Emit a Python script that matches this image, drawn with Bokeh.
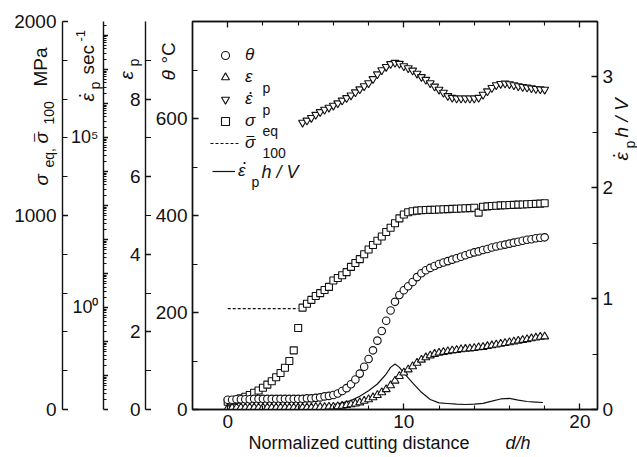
import math
from bokeh.plotting import figure
from bokeh.models import (Range1d, LinearAxis, FixedTicker, LogScale, CustomJSTickFormatter,
                          Label, Legend, LegendItem)
from bokeh.layouts import row, column
from bokeh.embed import file_html
from bokeh.resources import INLINE

# ---------------- data ----------------
d = [0.0, 0.25, 0.5, 0.75, 1.0, 1.25, 1.5, 1.75, 2.0, 2.25, 2.5, 2.75, 3.0, 3.25, 3.5, 3.75,
     4.0, 4.25, 4.5, 4.75, 5.0, 5.25, 5.5, 5.75, 6.0, 6.25, 6.5, 6.75, 7.0, 7.25, 7.5, 7.75,
     8.0, 8.25, 8.5, 8.75, 9.0, 9.25, 9.5, 9.75, 10.0, 10.25, 10.5, 10.75, 11.0, 11.25, 11.5,
     11.75, 12.0, 12.25, 12.5, 12.75, 13.0, 13.25, 13.5, 13.75, 14.0, 14.25, 14.5, 14.75, 15.0,
     15.25, 15.5, 15.75, 16.0, 16.25, 16.5, 16.75, 17.0, 17.25, 17.5, 17.75, 18.0]

theta = [20, 20, 21, 21, 21, 21, 22, 22, 22, 22, 22, 22, 22, 22, 22, 22, 22, 22, 23, 23, 24, 25,
         27, 28, 30, 33, 38, 44, 52, 62, 74, 88, 104, 122, 142, 162, 183, 204, 222, 236, 246,
         254, 263, 273, 281, 287, 292, 296, 300, 303, 306, 309, 312, 315, 318, 321, 324, 326,
         329, 331, 334, 336, 338, 340, 342, 344, 346, 348, 350, 351, 353, 354, 355]

eps_p = [0.03, 0.04, 0.05, 0.05, 0.05, 0.05, 0.05, 0.05, 0.05, 0.05, 0.05, 0.05, 0.05, 0.05,
         0.05, 0.05, 0.05, 0.05, 0.05, 0.05, 0.06, 0.06, 0.06, 0.07, 0.07, 0.08, 0.09, 0.11,
         0.13, 0.15, 0.18, 0.22, 0.26, 0.31, 0.37, 0.44, 0.52, 0.62, 0.74, 0.86, 0.95, 1.03,
         1.11, 1.20, 1.28, 1.34, 1.39, 1.43, 1.46, 1.48, 1.50, 1.52, 1.53, 1.55, 1.56, 1.57,
         1.58, 1.60, 1.61, 1.63, 1.65, 1.67, 1.69, 1.71, 1.73, 1.75, 1.77, 1.79, 1.81, 1.83,
         1.85, 1.87, 1.88]

sigma_eq = [40, 45, 50, 58, 66, 75, 86, 98, 112, 128, 146, 166, 188, 215, 250, 305, 420,
            525, 545, 565, 585, 600, 616, 632, 665, 678, 692, 708, 735, 755, 775, 800, 825,
            848, 870, 892, 915, 937, 960, 985, 1005, 1017, 1022, 1025, 1027, 1028, 1029, 1030,
            1031, 1032, 1033, 1034, 1035, 1036, 1037, 1038, 1040, 1015, 1045, 1047, 1049, 1050,
            1052, 1053, 1054, 1055, 1056, 1057, 1058, 1059, 1060, 1061, 1063]

edot_d = d[17:]
edot = [2.75e5, 3.16e5, 3.80e5, 4.68e5, 5.62e5, 6.61e5, 7.59e5, 8.71e5, 1.02e6, 1.23e6,
        1.45e6, 1.74e6, 2.14e6, 2.63e6, 3.24e6, 3.98e6, 5.25e6, 7.24e6, 9.55e6, 1.20e7,
        1.45e7, 1.58e7, 1.48e7, 1.26e7, 1.10e7, 9.33e6, 7.59e6, 6.03e6, 5.01e6, 3.98e6,
        3.16e6, 2.57e6, 2.09e6, 1.66e6, 1.48e6, 1.41e6, 1.41e6, 1.41e6, 1.41e6, 1.41e6,
        1.48e6, 1.82e6, 2.29e6, 2.88e6, 3.47e6, 3.80e6, 3.89e6, 3.72e6, 3.47e6, 3.24e6,
        3.09e6, 2.95e6, 2.82e6, 2.69e6, 2.63e6, 2.57e6]

sig100_d = [0.0, 4.0]
sig100 = [520, 520]

rate_d = [0, 1, 2, 3, 4, 5, 5.5, 6, 6.5, 7, 7.5, 8, 8.5, 9, 9.25, 9.5, 9.75, 10, 10.5, 11,
          11.5, 12, 12.5, 13, 13.5, 14, 14.5, 15, 15.5, 16, 16.5, 17, 17.5, 17.9]
rate = [0.02, 0.02, 0.02, 0.02, 0.025, 0.03, 0.035, 0.045, 0.06, 0.08, 0.12, 0.17, 0.23, 0.32,
        0.38, 0.41, 0.38, 0.33, 0.24, 0.155, 0.09, 0.06, 0.054, 0.048, 0.045, 0.048, 0.056,
        0.075, 0.095, 0.10, 0.085, 0.072, 0.067, 0.063]

x_ticks = [0, 10, 20]
x_minor = [2, 4, 6, 8, 12, 14, 16, 18]
theta_ticks = [0, 200, 400, 600]
theta_minor = [100, 300, 500, 700]
eps_ticks = [0, 2, 4, 6, 8]
eps_minor = [1, 3, 5, 7, 9]
sigma_ticks = [0, 1000, 2000]
sigma_minor = [200, 400, 600, 800, 1200, 1400, 1600, 1800]
rate_ticks = [0, 1, 2, 3]
rate_minor = [0.5, 1.5, 2.5]
log_decades = [1e-3, 1e-2, 1e-1, 1e0, 1e1, 1e2, 1e3, 1e4, 1e5, 1e6, 1e7, 1e8]
log_minor = [m * dec for dec in log_decades for m in range(2, 10) if m * dec < 2.5e8]

# ---------------- styling ----------------
FONT = "Liberation Sans"
INK = "#111111"
W = 637
H = 457
TOP = 21
BOTTOM = 48
FRAME_BOTTOM = H - BOTTOM

x_range = Range1d(-2, 21)
theta_range = Range1d(0, 800)
sigma_range = Range1d(0, 2000)
eps_range = Range1d(0, 10)
log_range = Range1d(1e-3, 10 ** 8.41)
rate_range = Range1d(0, 3.5)


def style_axis(ax, ticks, minor, major_len=6, minor_len=4, standoff=5, size="19px"):
    ax.ticker = FixedTicker(ticks=ticks, minor_ticks=minor)
    ax.major_tick_in = major_len
    ax.major_tick_out = 0
    ax.minor_tick_in = minor_len
    ax.minor_tick_out = 0
    ax.axis_line_color = INK
    ax.axis_line_width = 1.4
    ax.major_tick_line_color = INK
    ax.major_tick_line_width = 1.3
    ax.minor_tick_line_color = INK
    ax.minor_tick_line_width = 1.1
    ax.major_label_text_font = FONT
    ax.major_label_text_font_size = size
    ax.major_label_text_color = INK
    ax.major_label_standoff = standoff


def narrow(width, left, y_range, y_axis_type="linear"):
    f = figure(width=width, height=H, x_range=Range1d(0, 1), y_range=y_range,
               y_axis_type=y_axis_type, x_axis_location=None,
               output_backend="svg", toolbar_location=None,
               min_border_left=left, min_border_right=0,
               min_border_top=TOP, min_border_bottom=BOTTOM)
    f.outline_line_color = None
    f.xgrid.visible = False
    f.ygrid.visible = False
    f.background_fill_color = None
    f.border_fill_color = "white"
    return f


# sigma axis figure (axis at x=62)
fs = narrow(68, 62, sigma_range)
style_axis(fs.yaxis[0], sigma_ticks, sigma_minor, 6, 5, standoff=6)

# strain-rate (log) axis figure (axis at x=102)
fl = narrow(40, 34, log_range, "log")
style_axis(fl.yaxis[0], log_decades, log_minor, 6, 3, standoff=5, size="18px")
fl.yaxis[0].formatter = CustomJSTickFormatter(code="""
if (Math.abs(tick - 1) < 1e-9) { return '10\u2070'; }
if (Math.abs(tick - 1e5) < 1e-2) { return '10\u2075'; }
return '';
""")

# plastic strain axis figure (axis at x=145)
fe = narrow(43, 37, eps_range)
style_axis(fe.yaxis[0], eps_ticks, eps_minor, 6, 6, standoff=5)

# main figure (frame 192..597)
main = figure(width=486, height=H, x_range=x_range, y_range=theta_range,
              output_backend="svg", toolbar_location=None,
              min_border_left=41, min_border_right=40, min_border_top=TOP,
              min_border_bottom=BOTTOM)
main.extra_y_ranges = {"sigma": sigma_range, "eps": eps_range, "log": log_range,
                       "rate": rate_range}
main.extra_y_scales = {"log": LogScale()}
main.xgrid.visible = False
main.ygrid.visible = False
main.outline_line_color = INK
main.outline_line_width = 1.4
main.background_fill_color = None
main.border_fill_color = "white"

style_axis(main.xaxis[0], x_ticks, x_minor, 6, 4, standoff=5)
style_axis(main.yaxis[0], theta_ticks, theta_minor, 6, 5, standoff=5)

top_ax = LinearAxis()
style_axis(top_ax, x_ticks, x_minor, 6, 4, standoff=0, size="1px")
top_ax.formatter = CustomJSTickFormatter(code="return '';")
main.add_layout(top_ax, "above")

right_ax = LinearAxis(y_range_name="rate")
style_axis(right_ax, rate_ticks, rate_minor, 6, 5, standoff=5)
main.add_layout(right_ax, "right")

mk = dict(fill_color="white", line_color=INK, line_width=1.1)
r_sig100 = main.line(sig100_d, sig100, y_range_name="sigma", line_color=INK,
                     line_width=1.1, line_dash="3 2")
r_rate = main.line(rate_d, rate, y_range_name="rate", line_color=INK, line_width=1.2)
r_sig = main.scatter(d, sigma_eq, y_range_name="sigma", marker="square", size=7, **mk)
r_eps = main.scatter(d, eps_p, y_range_name="eps", marker="triangle", size=8, **mk)
r_theta = main.scatter(d, theta, marker="circle", size=7.5, **mk)
r_edot = main.scatter(edot_d, edot, y_range_name="log", marker="inverted_triangle", size=8, **mk)

leg_style = dict(glyph_height=20, label_height=22, spacing=0, padding=0, margin=0,
                 border_line_color=None, background_fill_color=None, background_fill_alpha=0,
                 label_text_font=FONT, label_text_font_style="italic",
                 label_text_font_size="17px", label_text_color=INK)
leg1 = Legend(items=[LegendItem(label="θ", renderers=[r_theta]),
                     LegendItem(label="ε", renderers=[r_eps]),
                     LegendItem(label="ε", renderers=[r_edot]),
                     LegendItem(label="σ", renderers=[r_sig]),
                     LegendItem(label="σ", renderers=[r_sig100])],
              location=(18, FRAME_BOTTOM - 154), glyph_width=30, label_standoff=5, **leg_style)
leg2 = Legend(items=[LegendItem(label="ε", renderers=[r_rate])],
              location=(20, FRAME_BOTTOM - 182), glyph_width=23, label_standoff=3, **leg_style)
main.add_layout(leg1)
main.add_layout(leg2)

# ---------------- transparent text layer over the whole chart (pixel coordinates) -----------
overlay = figure(width=W, height=H, x_range=Range1d(0, W), y_range=Range1d(H, 0),
                 x_axis_location=None, y_axis_location=None,
                 output_backend="svg", toolbar_location=None, min_border=0,
                 margin=(-H, 0, 0, 0))
overlay.outline_line_color = None
overlay.background_fill_color = None
overlay.border_fill_color = None
overlay.xgrid.visible = False
overlay.ygrid.visible = False

UP = math.pi / 2


def txt(X, Y, text, size=19, style="normal", angle=0.0, align="left", baseline="middle"):
    overlay.add_layout(Label(x=X, y=Y, text=text, angle=angle, text_font=FONT,
                             text_font_size=f"{size}px", text_font_style=style,
                             text_align=align, text_baseline=baseline, text_color=INK))


# sigma axis title
txt(41, 185, "σ", 19, "italic", UP)
txt(48, 167, "eq,", 14, "normal", UP)
txt(41, 143, "σ", 19, "italic", UP)
txt(32, 137, "–", 15, "normal", UP, "center")
txt(48, 124, "100", 14, "normal", UP)
txt(40, 86, "MPa", 19, "normal", UP)
# strain-rate axis title
txt(87, 101, "ε", 19, "italic", UP)
txt(78, 95, "·", 19, "normal", UP, "center")
txt(94, 89, "p", 14, "normal", UP)
txt(87, 74, "sec", 19, "normal", UP)
txt(80, 41, "-1", 13, "normal", UP)
# plastic strain axis title
txt(126, 79, "ε", 19, "italic", UP)
txt(133, 66, "p", 14, "normal", UP)
# temperature axis title
txt(168, 80, "θ", 19, "italic", UP)
txt(168, 63, "°C", 19, "normal", UP)
# right axis title
txt(621, 160, "ε", 19, "italic", UP)
txt(612, 155, "·", 19, "normal", UP, "center")
txt(629, 148, "p", 14, "normal", UP)
txt(621, 137, "h / V", 19, "italic", UP)
# x axis title
txt(248, 442, "Normalized cutting distance", 18)
txt(505, 442, "d/h", 18, "italic")
# legend marks and subscripts
txt(262, 87, "p", 14)
txt(250, 91, "·", 18, "normal", 0.0, "center")
txt(262, 109, "p", 14)
txt(262, 130, "eq", 14)
txt(250, 134, "–", 14, "normal", 0.0, "center")
txt(262, 152, "100", 14)
txt(244, 161, "·", 18, "normal", 0.0, "center")
txt(251, 181, "p", 14)
txt(261, 171, "h / V", 18, "italic")

p = column(row(fs, fl, fe, main, spacing=0), overlay, spacing=0)

open("out.html", "w").write(file_html(p, INLINE))
